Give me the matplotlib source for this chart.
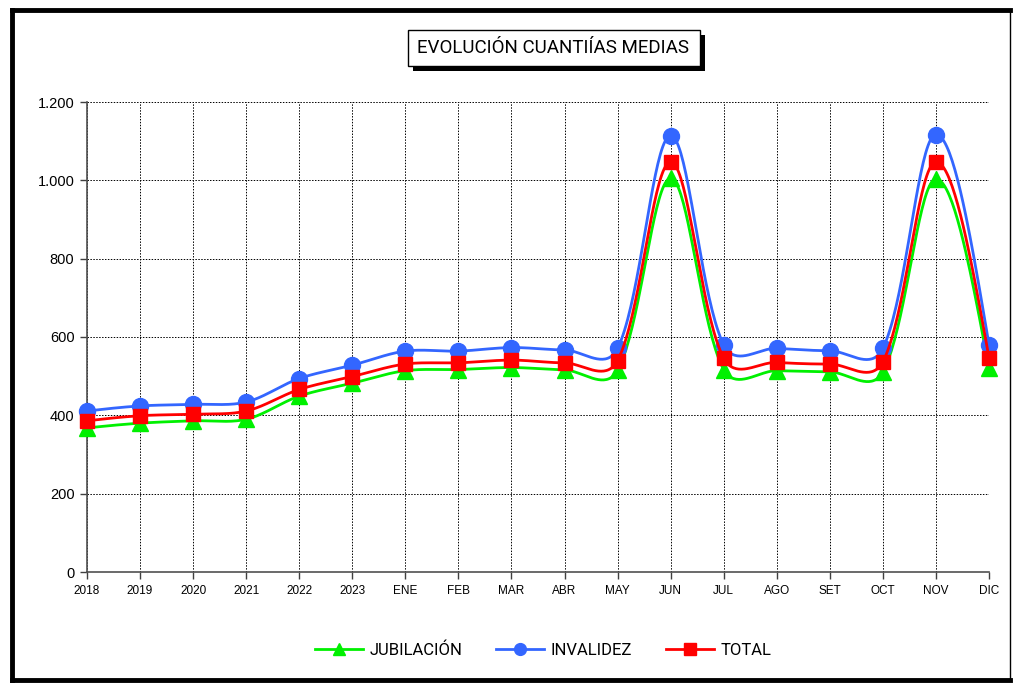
import matplotlib
matplotlib.use('Agg')

import matplotlib.pyplot as plt
from matplotlib.lines import Line2D
from matplotlib.patches import Rectangle
from matplotlib.ticker import FuncFormatter
import numpy as np

# data
categorias = ['2018', '2019', '2020', '2021', '2022', '2023', 'ENE', 'FEB', 'MAR',
              'ABR', 'MAY', 'JUN', 'JUL', 'AGO', 'SET', 'OCT', 'NOV', 'DIC']
jubilacion = [368, 380, 386, 390, 449, 482, 514, 517, 522, 516, 515, 1005,
              517, 514, 511, 511, 1003, 520]
invalidez = [411, 424, 428, 434, 494, 528, 564, 564, 573, 567, 571, 1114,
             580, 571, 565, 571, 1117, 580]
total = [386, 399, 403, 411, 466, 499, 531, 534, 541, 534, 540, 1047,
         546, 535, 531, 537, 1047, 547]

C_JUB = '#00f000'
C_INV = '#3366ff'
C_TOT = '#ff0000'

# pixels per data unit, used so the smoothing works in screen space
PX_X = 902 / 17.0
PX_Y = 470 / 1200.0


def smooth(y, t=1 / 3.0, n=40):
    # bezier smoothing, control points weighted by sqrt of segment length
    p = np.column_stack([np.arange(len(y)) * PX_X, np.asarray(y, dtype=float) * PX_Y])
    m = len(p)
    cin = p.copy()
    cout = p.copy()
    for i in range(1, m - 1):
        d01 = np.sqrt(np.hypot(*(p[i] - p[i - 1])))
        d12 = np.sqrt(np.hypot(*(p[i + 1] - p[i])))
        fa = t * d01 / (d01 + d12)
        fb = t * d12 / (d01 + d12)
        cin[i] = p[i] - fa * (p[i + 1] - p[i - 1])
        cout[i] = p[i] + fb * (p[i + 1] - p[i - 1])
    cout[0] = p[0] + (cin[1] - p[0]) * 0.5
    cin[-1] = p[-1] + (cout[-2] - p[-1]) * 0.5
    xs, ys = [], []
    tt = np.linspace(0, 1, n)[:, None]
    for i in range(m - 1):
        a, b, c, d = p[i], cout[i], cin[i + 1], p[i + 1]
        pts = (1 - tt) ** 3 * a + 3 * (1 - tt) ** 2 * tt * b + 3 * (1 - tt) * tt ** 2 * c + tt ** 3 * d
        xs.extend(pts[:, 0] / PX_X)
        ys.extend(pts[:, 1] / PX_Y)
    return xs, ys


fig = plt.figure(figsize=(10.15, 6.83), dpi=100)
ax = fig.add_axes([87 / 1015, 1 - 572 / 683, 902 / 1015, 470 / 683])

series = [('JUBILACIÓN', jubilacion, C_JUB, '^', 11),
          ('INVALIDEZ', invalidez, C_INV, 'o', 11.5),
          ('TOTAL', total, C_TOT, 's', 10)]
pos = np.arange(len(categorias))
handles = []
for z, (name, vals, col, mk, ms) in enumerate(series):
    sx, sy = smooth(vals)
    ax.plot(sx, sy, color=col, lw=2, zorder=3 + z, solid_capstyle='round')
    ax.plot(pos, vals, ls='none', marker=mk, ms=ms, color=col, mec=col, zorder=3 + z, clip_on=False)
    handles.append(Line2D([0], [0], color=col, lw=2, marker=mk, ms=8.5, mec=col))

ax.set_xlim(0, len(categorias) - 1)
ax.set_ylim(0, 1200)
ax.set_xticks(pos)
ax.set_xticklabels(categorias, fontsize=8.5, family='Liberation Sans')
ax.set_yticks(np.arange(0, 1201, 200))
ax.yaxis.set_major_formatter(FuncFormatter(lambda v, p: '{:,.0f}'.format(v).replace(',', '.')))
for lab in ax.get_yticklabels():
    lab.set_fontsize(10.5)
    lab.set_family('Liberation Sans')
ax.tick_params(axis='both', direction='out', length=5, width=1, color='#404040', pad=4)
ax.grid(True, color='black', ls=(0, (1.5, 1.5)), lw=0.7)
ax.set_axisbelow(True)
for s in ['top', 'right']:
    ax.spines[s].set_visible(False)
for s in ['left', 'bottom']:
    ax.spines[s].set_color('#505050')
    ax.spines[s].set_linewidth(1.2)

# title in framed box with shadow
fig.patches.append(Rectangle((413 / 1015, 1 - 71 / 683), 292 / 1015, 36 / 683,
                             transform=fig.transFigure, facecolor='black', edgecolor='none', zorder=1))
fig.patches.append(Rectangle((408 / 1015, 1 - 66 / 683), 292 / 1015, 36 / 683,
                             transform=fig.transFigure, facecolor='white', edgecolor='black', lw=1, zorder=2))
fig.text(553 / 1015, 1 - 48 / 683, 'EVOLUCIÓN CUANTIÍAS MEDIAS', ha='center', va='center',
         fontsize=13.5, family=['Liberation Sans Narrow', 'Roboto', 'DejaVu Sans'], zorder=3)

fig.legend(handles, [s[0] for s in series], loc='center', bbox_to_anchor=(543 / 1015, 1 - 650 / 683),
           ncol=3, frameon=False, handlelength=2.9, columnspacing=2.0, handletextpad=0.4,
           prop={'family': ['Liberation Sans Narrow', 'Roboto', 'DejaVu Sans'], 'size': 12})

# outer frame
fig.add_artist(Line2D([12 / 1015, 1010 / 1015], [1 - 10 / 683, 1 - 10 / 683], color='black', lw=3.5,
                      transform=fig.transFigure))
fig.add_artist(Line2D([12 / 1015, 12 / 1015], [1 - 10 / 683, 1 - 680 / 683], color='black', lw=3.5,
                      transform=fig.transFigure))
fig.add_artist(Line2D([12 / 1015, 1010 / 1015], [1 - 680 / 683, 1 - 680 / 683], color='black', lw=3.5,
                      transform=fig.transFigure))
fig.add_artist(Line2D([1010 / 1015, 1010 / 1015], [1 - 10 / 683, 1 - 680 / 683], color='black', lw=1,
                      transform=fig.transFigure))

fig.savefig('out.png', dpi=100)
